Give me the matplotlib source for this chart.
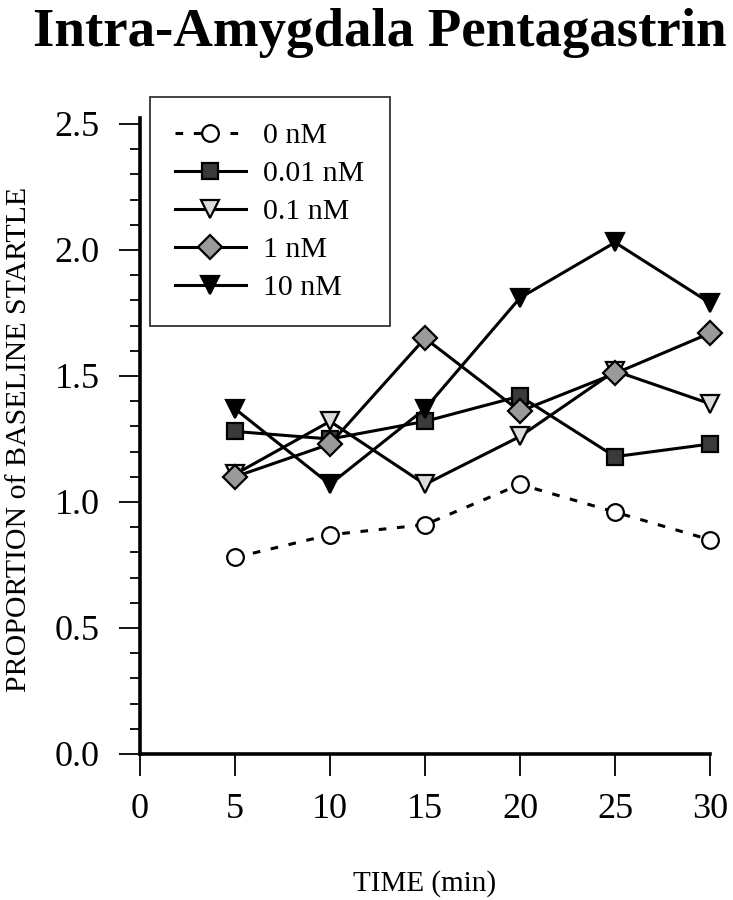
import matplotlib
matplotlib.use("Agg")
import matplotlib.pyplot as plt
from matplotlib.ticker import MultipleLocator, FormatStrFormatter

plt.rcParams['font.family'] = ['Liberation Serif', 'DejaVu Serif']

time = [5, 10, 15, 20, 25, 30]
labels = ["0 nM", "0.01 nM", "0.1 nM", "1 nM", "10 nM"]
v0 = [0.78, 0.87, 0.91, 1.07, 0.96, 0.85]
v001 = [1.28, 1.25, 1.32, 1.42, 1.18, 1.23]
v01 = [1.11, 1.32, 1.07, 1.26, 1.52, 1.39]
v1 = [1.10, 1.23, 1.65, 1.36, 1.51, 1.67]
v10 = [1.37, 1.07, 1.37, 1.81, 2.03, 1.79]

series = [v0, v001, v01, v1, v10]
markers = ['o', 's', 'v', 'D', 'v']
faces = ['white', '#3a3a3a', '#dcdcdc', '#9a9a9a', 'black']
styles = [(0, (2.5, 3.5)), '-', '-', '-', '-']
msizes = [12, 12, 13, 12, 13]

fig = plt.figure(figsize=(7.33, 9.0), dpi=100)
ax = fig.add_axes([140/733, 1-754/900, 570/733, 630/900])

handles = []
for vals, m, fc, ls, ms, lab in zip(series, markers, faces, styles, msizes, labels):
    h, = ax.plot(time, vals, linestyle=ls, color='black', lw=2.2, marker=m,
                 markersize=ms, markerfacecolor=fc, markeredgecolor='black',
                 markeredgewidth=1.6, label=lab, clip_on=False)
    handles.append(h)

ax.set_xlim(0, 30)
ax.set_ylim(0, 2.5)
ax.set_xticks([0, 5, 10, 15, 20, 25, 30])
ax.yaxis.set_major_locator(MultipleLocator(0.5))
ax.yaxis.set_minor_locator(MultipleLocator(0.1))
ax.yaxis.set_major_formatter(FormatStrFormatter('%.1f'))
for s in ['top', 'right']:
    ax.spines[s].set_visible(False)
for s in ['left', 'bottom']:
    ax.spines[s].set_linewidth(2.6)
ax.spines['left'].set_bounds(0, 2.525)
ax.tick_params(axis='x', which='major', length=16, width=1.3, direction='out',
               labelsize=26, pad=12)
ax.tick_params(axis='y', which='major', length=15, width=1.3, direction='out',
               labelsize=26, pad=14)
ax.tick_params(axis='y', which='minor', length=7, width=1.3, direction='out')

ax.set_xlabel("TIME (min)", fontsize=21, labelpad=32)
ax.set_ylabel("PROPORTION of BASELINE STARTLE", fontsize=21.5, labelpad=16)

fig.text(380/733, 0.963, "Intra-Amygdala Pentagastrin", ha='center', va='center',
         fontsize=39.5, fontweight='bold')

leg = ax.legend(handles=handles, loc='upper left',
                bbox_to_anchor=(150/733, 1-97/900), bbox_transform=fig.transFigure,
                fontsize=21.5, frameon=True, fancybox=False, edgecolor='black',
                handlelength=2.35, handletextpad=0.6, labelspacing=0.37,
                borderpad=0.85, borderaxespad=0)
leg.get_frame().set_linewidth(1.3)

fig.savefig("out.png", dpi=100)
